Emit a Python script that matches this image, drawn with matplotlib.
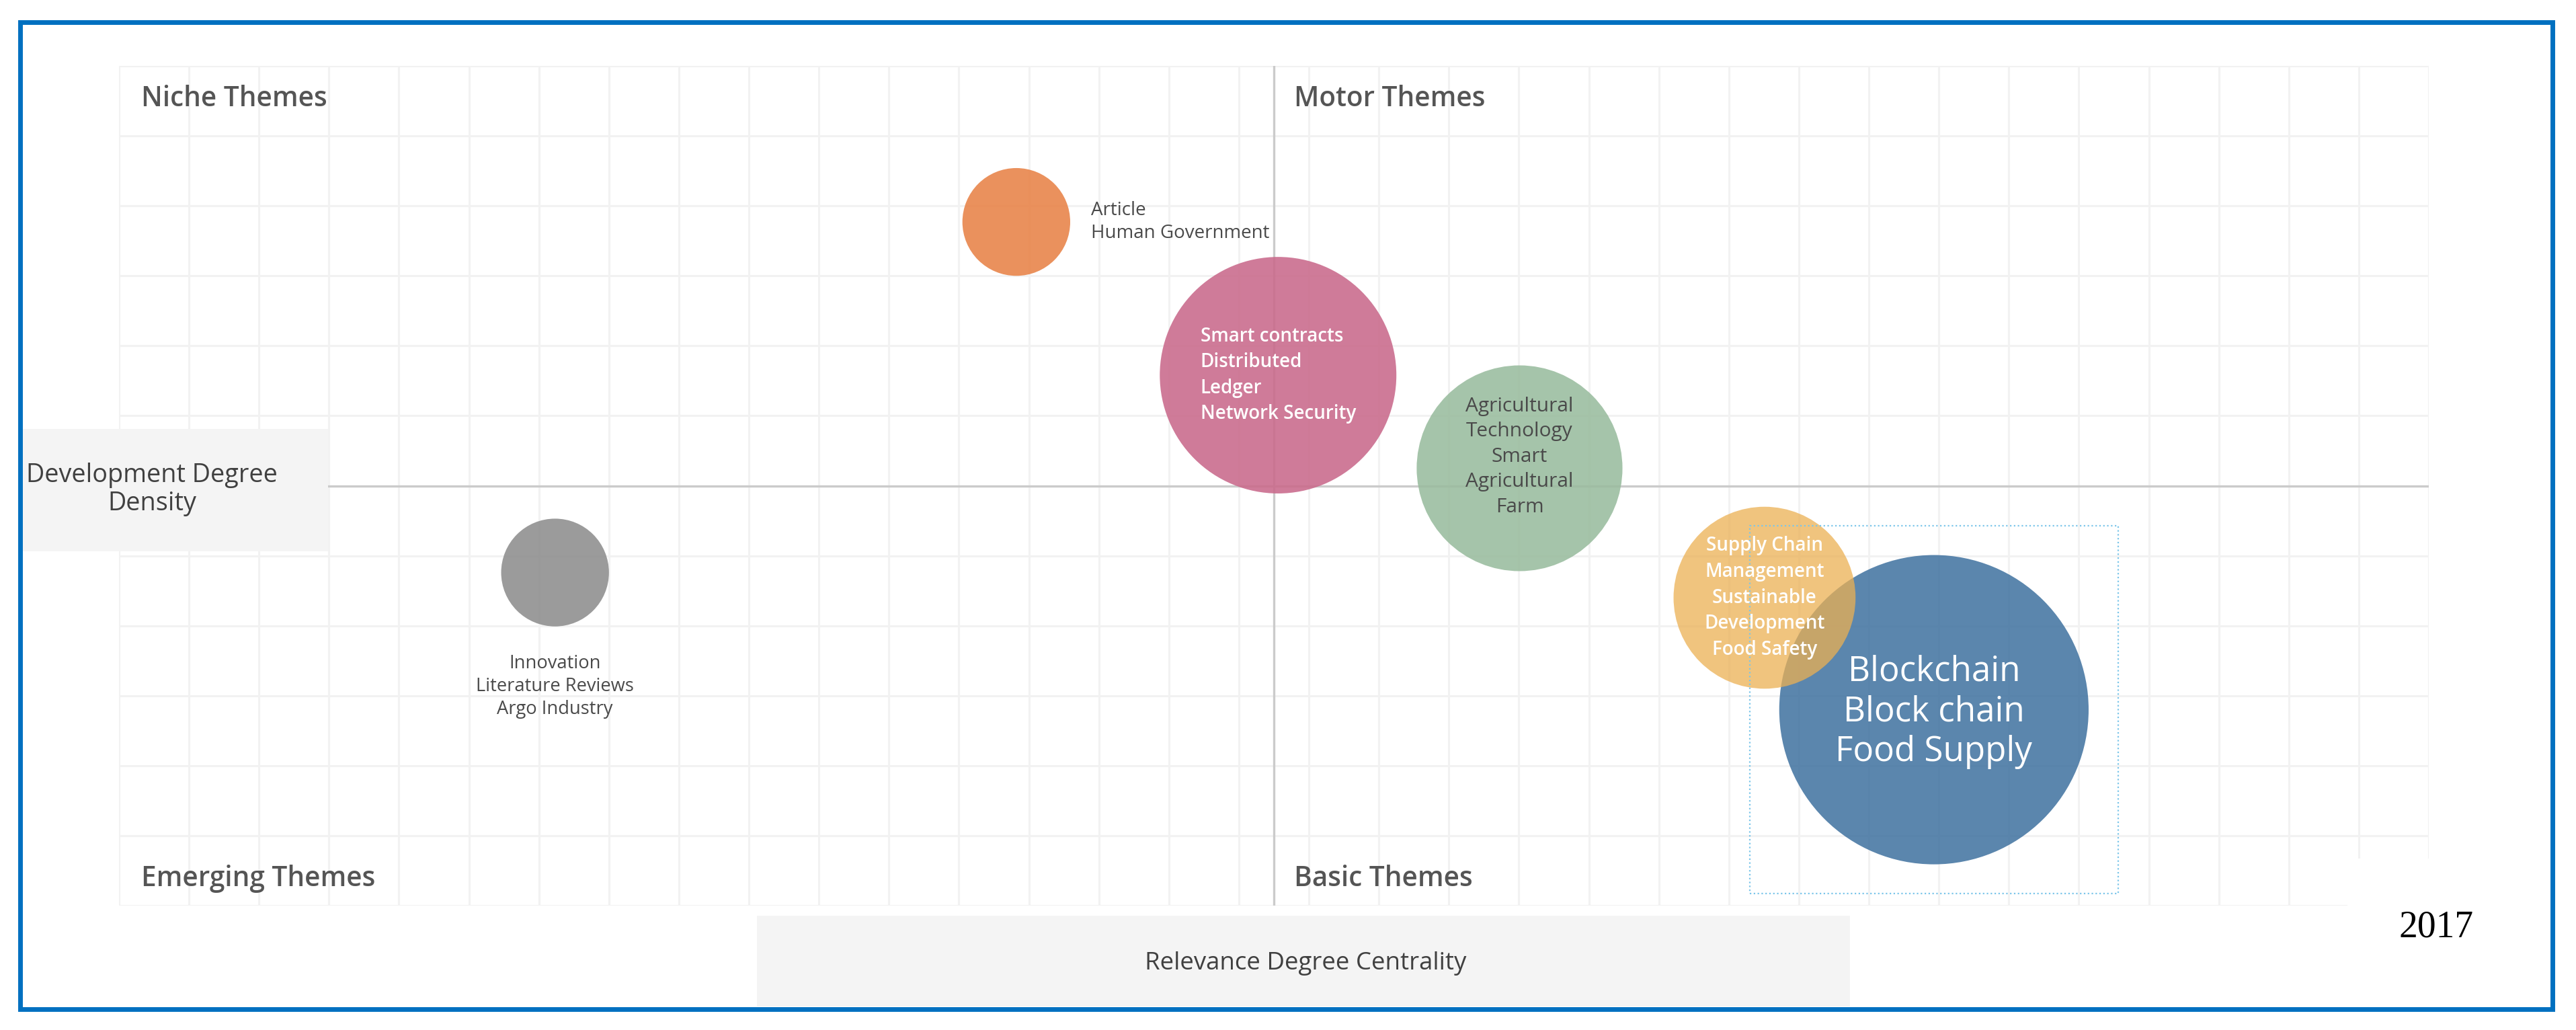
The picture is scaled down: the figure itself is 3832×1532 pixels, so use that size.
import numpy as np
import matplotlib
matplotlib.use("Agg")
import matplotlib.pyplot as plt
from matplotlib.patches import Circle, Rectangle

# ---------------- data ----------------
themes = [
    "Innovation\nLiterature Reviews\nArgo Industry",
    "Article\nHuman Government",
    "Smart contracts\nDistributed\nLedger\nNetwork Security",
    "Agricultural\nTechnology\nSmart\nAgricultural\nFarm",
    "Blockchain\nBlock chain\nFood Supply",
    "Supply Chain\nManagement\nSustainable\nDevelopment\nFood Safety",
]
centrality = [-10.27, -3.68, 0.06, 3.51, 9.43, 7.01]   # relevance degree (x)
density = [-1.24, 3.77, 1.58, 0.25, -3.20, -1.60]      # development degree (y)
bubble_radius = [0.77, 0.77, 1.69, 1.47, 2.21, 1.30]
quadrants = ["Niche Themes", "Motor Themes", "Emerging Themes", "Basic Themes"]
x_label = "Relevance Degree Centrality"
y_label = "Development Degree\nDensity"
year = "2017"

# ---------------- styles ----------------
colors = ["#8d8d8d", "#e88246", "#c9698b", "#99bc9e", "#4475a2", "#ebb053"]
alphas = [0.88, 0.88, 0.88, 0.88, 0.88, 0.75]
label_styles = [
    dict(mode="below", color="#4a4a4a", size=19.7, weight="normal", ls=1.29, ma="center", dy=-0.03),
    dict(mode="right", color="#4a4a4a", size=20, weight="normal", ls=1.30, ma="left"),
    dict(mode="center", color="white", size=20, weight="semibold", ls=1.42, ma="left"),
    dict(mode="center", color="#4a4a4a", size=21.5, weight="normal", ls=1.39, ma="center", dy=0.165),
    dict(mode="center", color="white", size=36.8, weight="normal", ls=1.23, ma="center", dy=-0.03),
    dict(mode="center", color="white", size=20, weight="semibold", ls=1.44, ma="center"),
]
FONT = ["Open Sans", "DejaVu Sans"]
W, H = 3832, 1532


def fx(px):
    return px / W


def fy(py):
    return 1 - py / H


fig = plt.figure(figsize=(W / 100, H / 100), dpi=100)
fig.patch.set_facecolor("white")

ax = fig.add_axes([fx(177), fy(1347), (3613 - 177) / W, (1347 - 98) / H])
ax.set_xlim(-16.5, 16.5)
ax.set_ylim(-6, 6)
ax.set_xticks(np.arange(-16.5, 16.6, 1))
ax.set_yticks(np.arange(-6, 6.1, 1))
ax.tick_params(length=0, labelbottom=False, labelleft=False)
ax.grid(True, color="#f2f2f2", lw=2.2)
ax.set_axisbelow(True)
for s in ax.spines.values():
    s.set_visible(False)

ax.axhline(0, color="#cbcbcb", lw=2.4, zorder=1)
ax.axvline(0, color="#cbcbcb", lw=2.4, zorder=1)

for i, (x, y, r) in enumerate(zip(centrality, density, bubble_radius)):
    ax.add_patch(Circle((x, y), r, facecolor=colors[i], alpha=alphas[i], lw=0, zorder=2))

# selection box around the largest bubble
big = int(np.argmax(bubble_radius))
pad = 0.42
rb = bubble_radius[big] + pad
ax.add_patch(Rectangle((centrality[big] - rb, density[big] - rb), 2 * rb, 2 * rb,
                       fill=False, ec="#7cc6ea", lw=1.6, ls=(0, (1, 1.6)), zorder=3))

for i, (x, y, r) in enumerate(zip(centrality, density, bubble_radius)):
    st = label_styles[i]
    dy = st.get("dy", 0)
    if st["mode"] == "right":
        tx, ty, ha = x + r + 0.30, y + dy, "left"
    elif st["mode"] == "below":
        tx, ty, ha = x, y - r - 0.83 + dy, "center"
    else:
        tx, ty, ha = x, y + dy, "center"
    ax.text(tx, ty, themes[i], ha=ha, va="center", multialignment=st["ma"],
            color=st["color"], fontsize=st["size"], fontweight=st["weight"],
            linespacing=st["ls"], family=FONT, zorder=4)

# quadrant labels
qpos = [(0.0096, 0.952), (0.5087, 0.952), (0.0096, 0.0232), (0.5087, 0.0232)]
for q, (qx, qy) in zip(quadrants, qpos):
    ax.text(qx, qy, q, transform=ax.transAxes, ha="left", va="baseline",
            fontsize=29.2, fontweight="semibold", color="#555555", family=FONT, zorder=4)

# figure-level decorations: label boxes, cover, frame
fig.patches.append(Rectangle((fx(32), fy(820)), (488 - 32) / W, (820 - 638) / H,
                             transform=fig.transFigure, facecolor="#f4f4f4", lw=0, zorder=5))
fig.patches.append(Rectangle((fx(1126), fy(1497)), (2752 - 1126) / W, (1497 - 1362) / H,
                             transform=fig.transFigure, facecolor="#f4f4f4", lw=0, zorder=5))
fig.patches.append(Rectangle((fx(3492), fy(1362)), (3630 - 3492) / W, (1362 - 1277) / H,
                             transform=fig.transFigure, facecolor="white", lw=0, zorder=5))
fig.patches.append(Rectangle((fx(30), fy(1501)), (3797 - 30) / W, (1501 - 33) / H,
                             transform=fig.transFigure, fill=False, ec="#0070c0", lw=5,
                             joinstyle="miter", zorder=10))

fig.text(fx(226), fy(728), y_label, ha="center", va="center", fontsize=27.2,
         color="#404040", linespacing=1.17, family=FONT, zorder=6)
fig.text(fx(1942), fy(1433), x_label, ha="center", va="center", fontsize=26.4,
         color="#404040", family=FONT, zorder=6)
fig.text(fx(3624), fy(1380), year, ha="center", va="center", fontsize=40,
         color="black", family=["Liberation Serif", "DejaVu Serif"], zorder=6)

fig.savefig("out.png", dpi=100, facecolor="white")
